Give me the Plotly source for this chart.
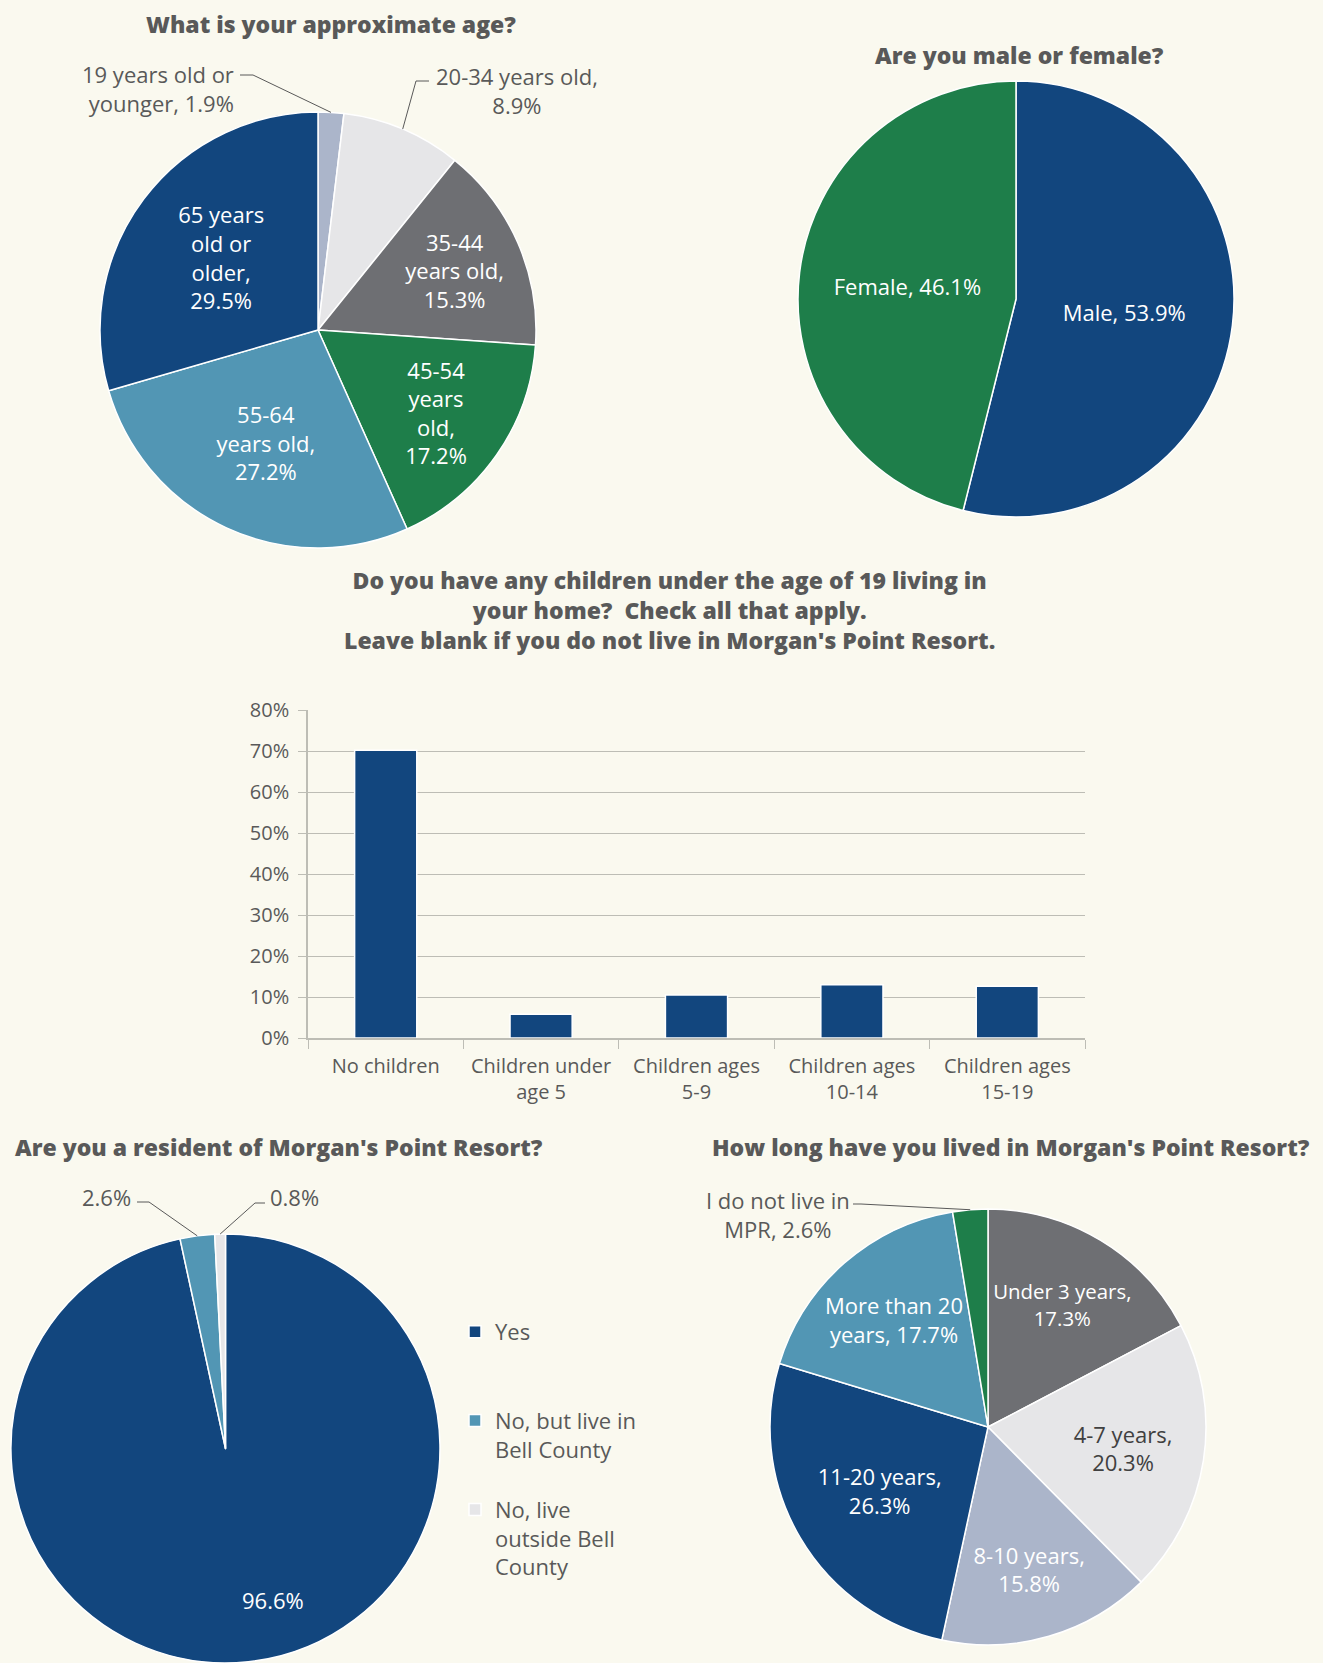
import math
import plotly.graph_objects as go

W, H = 1323, 1663
BG = "#FAF9EF"
DARK = "#12467E"
LBLUE = "#5296B4"
GREEN = "#1E7E4A"
GRAY = "#6E6F73"
LGRAY = "#E6E6E8"
PALE = "#ABB5CA"
TXT = "#595959"
AXIS = "#BDBDB5"
FONT = "'Open Sans', Lato, sans-serif"
LSIZE = 22

# ---------------- data ----------------
age_labels = ["19 years old or younger", "20-34 years old", "35-44 years old",
              "45-54 years old", "55-64 years old", "65 years old or older"]
age_values = [1.9, 8.9, 15.3, 17.2, 27.2, 29.5]
age_fmt = ["19 years old or<br>younger, {}", "20-34 years old,<br>{}", "35-44<br>years old,<br>{}",
           "45-54<br>years<br>old,<br>{}", "55-64<br>years old,<br>{}", "65 years<br>old or<br>older,<br>{}"]
age_colors = [PALE, LGRAY, GRAY, GREEN, LBLUE, DARK]

gender_labels = ["Male", "Female"]
gender_values = [53.9, 46.1]
gender_colors = [DARK, GREEN]

child_cats = ["No children", "Children under<br>age 5", "Children ages<br>5-9",
              "Children ages<br>10-14", "Children ages<br>15-19"]
child_values = [70.2, 5.8, 10.5, 13.0, 12.6]
child_ticks = [0, 10, 20, 30, 40, 50, 60, 70, 80]

res_labels = ["Yes", "No, but live in<br>Bell County", "No, live<br>outside Bell<br>County"]
res_legend_pad = ["<br> <br> ", "<br> ", ""]
res_values = [96.6, 2.6, 0.8]
res_colors = [DARK, LBLUE, LGRAY]

ten_labels = ["Under 3 years", "4-7 years", "8-10 years", "11-20 years",
              "More than 20 years", "I do not live in MPR"]
ten_values = [17.3, 20.3, 15.8, 26.3, 17.7, 2.6]
ten_fmt = ["Under 3 years,<br>{}", "4-7 years,<br>{}", "8-10 years,<br>{}", "11-20 years,<br>{}",
           "More than 20<br>years, {}", "I do not live in<br>MPR, {}"]
ten_colors = [GRAY, LGRAY, PALE, DARK, LBLUE, GREEN]


def pct(v):
    return f"{v:.1f}%"


def dom(cx, cy, r):
    return dict(x=[(cx - r) / W, (cx + r) / W], y=[1 - (cy + r) / H, 1 - (cy - r) / H])


def edge(cx, cy, r, values, i):
    cum = sum(values[:i]) + values[i] / 2
    ang = 2 * math.pi * cum / sum(values)
    return cx + r * math.sin(ang), cy - r * math.cos(ang)


fig = go.Figure()

# ---- Age pie ----
AGE = (318, 330, 218)
age_inside = [False, False, True, True, True, True]
fig.add_trace(go.Pie(
    labels=age_labels, values=age_values, sort=False, direction="clockwise",
    text=[age_fmt[i].format(pct(v)) if age_inside[i] else "" for i, v in enumerate(age_values)],
    textinfo="text", textposition="inside", insidetextorientation="horizontal",
    insidetextfont=dict(color="white", size=LSIZE, family=FONT),
    marker=dict(colors=age_colors, line=dict(color="white", width=1.5)),
    domain=dom(*AGE), showlegend=False, hoverinfo="label+percent",
))

# ---- Gender pie ----
GEN = (1016, 299, 218)
fig.add_trace(go.Pie(
    labels=gender_labels, values=gender_values, sort=False, direction="clockwise",
    text=[f"{l}, {pct(v)}" for l, v in zip(gender_labels, gender_values)],
    textinfo="text", textposition="inside", insidetextorientation="horizontal",
    insidetextfont=dict(color="white", size=LSIZE, family=FONT),
    marker=dict(colors=gender_colors, line=dict(color="white", width=1.5)),
    domain=dom(*GEN), showlegend=False,
))

# ---- Children bar chart ----
fig.add_trace(go.Bar(
    x=child_cats, y=child_values, marker=dict(color=DARK, line=dict(color="white", width=1.5)),
    width=0.4, showlegend=False, xaxis="x", yaxis="y",
))

# ---- Resident pie ----
RES = (225.5, 1448.5, 214.5)
fig.add_trace(go.Pie(
    labels=[l + p for l, p in zip(res_labels, res_legend_pad)], values=res_values,
    sort=False, direction="clockwise",
    text=["", "", ""], textinfo="text", textposition="inside",
    marker=dict(colors=res_colors, line=dict(color="white", width=1.5)),
    domain=dict(x=[(RES[0] - RES[2]) / W, (RES[0] + RES[2]) / W], y=[0, 1 - (RES[1] - RES[2]) / H]),
    showlegend=True,
))

# ---- Tenure pie ----
TEN = (988, 1427, 218)
ten_inside = [True, True, True, True, True, False]
ten_tcol = ["white", "#404040", "white", "white", "white", "white"]
fig.add_trace(go.Pie(
    labels=ten_labels, values=ten_values, sort=False, direction="clockwise",
    text=[ten_fmt[i].format(pct(v)) if ten_inside[i] else "" for i, v in enumerate(ten_values)],
    textinfo="text", textposition="inside", insidetextorientation="horizontal",
    insidetextfont=dict(color=ten_tcol, size=LSIZE, family=FONT),
    marker=dict(colors=ten_colors, line=dict(color="white", width=1.5)),
    domain=dom(*TEN), showlegend=False,
))

# ---------------- annotations / leader lines ----------------
annots = []
shapes = []


def title(text, x, y, xanchor="center"):
    annots.append(dict(text=text, x=x / W, y=1 - y / H, xref="paper", yref="paper",
                       xanchor=xanchor, yanchor="middle", showarrow=False, align="center",
                       font=dict(size=23, color=TXT, family=FONT, weight=800)))


def outlabel(text, x, y, xanchor="center", align="center", color=TXT):
    annots.append(dict(text=text, x=x / W, y=1 - y / H, xref="paper", yref="paper",
                       xanchor=xanchor, yanchor="middle", showarrow=False, align=align,
                       font=dict(size=LSIZE, color=color, family=FONT)))


def leader(p0, p1, e):
    path = "M {} {} L {} {} L {} {}".format(p0[0] / W, 1 - p0[1] / H, p1[0] / W, 1 - p1[1] / H,
                                           e[0] / W, 1 - e[1] / H)
    shapes.append(dict(type="path", path=path, xref="paper", yref="paper",
                       line=dict(color=TXT, width=1)))


title("What is your approximate age?", 331, 24)
title("Are you male or female?", 1019, 55)
title("Do you have any children under the age of 19 living in<br>your home?  Check all that apply.<br>"
      "Leave blank if you do not live in Morgan's Point Resort.", 669, 610)
title("Are you a resident of Morgan's Point Resort?", 13, 1147, xanchor="left")
title("How long have you lived in Morgan's Point Resort?", 1011, 1147)

# age outside labels
outlabel(age_fmt[0].format(pct(age_values[0])), 236, 89, xanchor="right", align="right")
leader((240, 75), (253, 75), edge(*AGE, age_values, 0))
outlabel(age_fmt[1].format(pct(age_values[1])), 517, 91)
leader((429, 81), (416, 81), edge(*AGE, age_values, 1))

# resident labels
outlabel(pct(res_values[0]), 273, 1600, color="white")
outlabel(pct(res_values[1]), 106, 1197)
leader((137, 1202), (149, 1202), edge(*RES, res_values, 1))
outlabel(pct(res_values[2]), 294, 1197)
leader((265, 1203), (255, 1203), edge(*RES, res_values, 2))

# tenure outside label
outlabel(ten_fmt[5].format(pct(ten_values[5])), 778, 1214)
leader((853, 1204), (861, 1204), edge(*TEN, ten_values, 5))

fig.update_layout(
    width=W, height=H, margin=dict(l=0, r=0, t=0, b=0, pad=0, autoexpand=False),
    paper_bgcolor=BG, plot_bgcolor=BG,
    font=dict(family=FONT, color=TXT, size=20),
    annotations=annots, shapes=shapes,
    xaxis=dict(domain=[308 / W, 1085 / W], anchor="y", type="category",
               tickson="boundaries", ticks="outside", ticklen=9, tickcolor=AXIS,
               showline=True, linecolor=AXIS, linewidth=1.5, showgrid=False,
               automargin=False, tickangle=0, ticklabelstandoff=9,
               tickfont=dict(size=20, color=TXT, family=FONT)),
    yaxis=dict(domain=[1 - 1038 / H, 1 - 710 / H], anchor="x", range=[0, 80],
               tickvals=child_ticks, ticktext=[f"{t}%" for t in child_ticks],
               ticks="outside", ticklen=8, tickcolor=AXIS,
               showline=True, linecolor=AXIS, linewidth=1.5,
               showgrid=True, gridcolor=AXIS, gridwidth=1.2, zeroline=False,
               automargin=False, ticklabelstandoff=5,
               tickfont=dict(size=20, color=TXT, family=FONT)),
    legend=dict(x=455 / W, y=1 - 1311 / H, xanchor="left", yanchor="top",
                valign="top", bgcolor="rgba(0,0,0,0)",
                font=dict(size=LSIZE, color=TXT, family=FONT), itemclick=False),
    bargap=0.6,
)

fig.write_html(
    "out.html",
    config={"displayModeBar": False},
    post_script="document.body.style.margin='0';document.body.style.overflow='hidden';"
                "document.documentElement.style.background='#FAF9EF';",
)
